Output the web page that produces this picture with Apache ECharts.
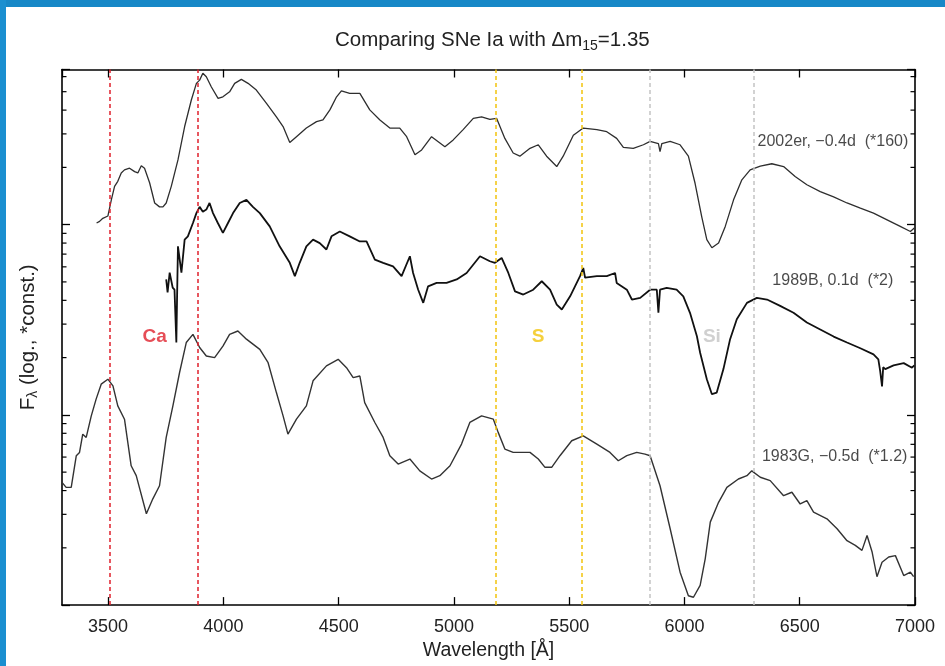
<!DOCTYPE html>
<html><head><meta charset="utf-8">
<script src="https://cdn.jsdelivr.net/npm/echarts@6/dist/echarts.min.js"></script>
<style>html,body{margin:0;padding:0;background:#fff}#c{width:945px;height:666px}</style>
</head><body><div id="c"></div>
<script>
// ---- axis ranges / ticks ----
const X_MIN = 3300, X_MAX = 7000;
const Y_MIN = 0.1, Y_MAX = 65.4;
const yMinorTicks = [0.2,0.3,0.4,0.5,0.6,0.7,0.8,0.9,2,3,4,5,6,7,8,9,20,30,40,50,60];

// ---- line identifications (wavelength, Å) ----
const caLines = [3505, 3890];
const sLines = [5180, 5555];
const siLines = [5850, 6300];

// ---- SN 2002er, -0.4d (*160) ----
const wl2002er = [3450,3463,3477,3499,3514,3528,3542,3557,3571,3593,
3615,3629,3644,3658,3680,3702,3723,3738,3752,3774,
3803,3832,3861,3883,3897,3911,3926,3948,3977,3998,
4027,4049,4078,4107,4143,4187,4230,4259,4288,4317,
4360,4404,4432,4462,4491,4512,4548,4592,4635,4679,
4722,4765,4795,4831,4860,4903,4961,4997,5040,5084,
5120,5156,5185,5221,5257,5286,5330,5366,5402,5446,
5474,5518,5561,5620,5663,5706,5735,5778,5822,5851,
5887,5894,5902,5938,5981,6017,6046,6075,6097,6119,
6148,6177,6213,6249,6285,6329,6379,6430,6480,6531,
6589,6647,6705,6763,6820,6879,6936,6980,6997];
const flux2002er = [10.2,10.4,10.8,11.1,13.5,15.9,16.9,18.7,19.4,19.8,
19.0,18.7,20.4,19.8,16.6,13.0,12.4,12.4,13.0,15.9,
21.9,32.8,45.2,55.3,57.5,62.5,59.9,52.9,46.1,47.0,
49.9,55.3,58.0,55.3,51.0,43.4,36.9,32.8,27.0,29.0,
32.2,34.8,35.5,40.1,47.0,50.5,49.0,49.0,40.1,35.5,
32.2,32.2,29.0,23.3,24.7,29.0,25.7,27.9,31.6,36.2,
36.9,35.8,36.2,28.4,23.8,22.9,25.2,26.3,22.9,20.2,
22.9,29.5,32.2,31.6,30.8,28.4,25.5,25.2,26.3,27.4,
26.7,24.2,26.7,27.4,26.3,22.9,16.5,11.0,8.34,7.56,
8.0,9.79,13.5,17.2,19.4,20.3,20.9,20.2,17.9,16.2,
14.9,14.0,13.0,12.2,11.5,10.6,9.79,9.2,9.6];

// ---- SN 1989B, 0.1d (*2) ----
const wl1989B = [3752,3758,3767,3780,3788,3796,3799,3803,3818,3832,
3846,3868,3883,3897,3911,3926,3940,3955,3976,3998,
4020,4042,4071,4100,4128,4158,4201,4244,4288,4310,
4331,4360,4389,4418,4447,4469,4505,4548,4592,4621,
4657,4693,4736,4773,4809,4823,4845,4867,4888,4925,
4968,5012,5055,5113,5156,5178,5207,5236,5265,5301,
5344,5381,5417,5446,5468,5504,5547,5561,5569,5620,
5663,5699,5706,5750,5772,5808,5851,5880,5887,5894,
5923,5966,5995,6024,6054,6068,6097,6119,6140,6169,
6198,6227,6271,6314,6358,6415,6473,6531,6589,6647,
6705,6763,6820,6841,6849,6857,6862,6871,6907,6951,6987,6997];
const flux1989B = [5.15,4.40,5.59,4.67,4.55,2.40,4.04,7.69,5.59,8.34,
8.68,10.2,11.5,12.4,11.7,12.0,13.0,11.5,10.2,9.05,
10.2,11.5,13.0,13.5,12.4,11.5,9.79,7.69,6.30,5.36,
6.30,7.69,8.34,8.0,7.40,8.68,9.2,8.68,8.16,8.16,
6.55,6.30,6.03,5.36,6.82,5.57,4.55,3.88,4.74,4.94,
4.94,5.15,5.57,6.82,6.42,6.30,6.68,5.57,4.46,4.29,
4.55,5.04,4.55,3.80,3.58,4.20,5.36,5.92,5.26,5.36,
5.36,5.57,4.94,4.55,4.04,4.12,4.55,4.55,3.44,4.55,
4.65,4.55,4.20,3.44,2.59,2.12,1.54,1.284,1.31,1.74,
2.50,3.18,3.88,4.12,4.04,3.74,3.44,3.06,2.81,2.58,
2.40,2.24,2.08,1.96,1.70,1.41,1.78,1.74,1.82,1.87,1.77,1.82];

// ---- SN 1983G, -0.5d (*1.2) ----
const wl1983G = [3300,3318,3340,3362,3376,3390,3405,3427,3448,3470,
3499,3521,3542,3571,3600,3622,3666,3694,3723,3752,
3781,3810,3839,3868,3897,3926,3962,3998,4027,4063,
4100,4158,4194,4230,4259,4280,4317,4360,4389,4447,
4498,4534,4563,4592,4613,4657,4693,4722,4758,4809,
4852,4903,4939,4983,5033,5069,5120,5171,5192,5221,
5257,5330,5366,5395,5424,5460,5511,5561,5620,5677,
5713,5750,5793,5829,5851,5894,5938,5981,6017,6039,
6068,6090,6112,6148,6184,6234,6271,6292,6329,6372,
6430,6466,6502,6531,6560,6618,6662,6705,6741,6770,
6792,6814,6835,6857,6886,6915,6951,6980,6994];
const flux1983G = [0.442,0.416,0.416,0.610,0.635,0.792,0.761,0.988,1.21,1.45,
1.54,1.42,1.115,0.949,0.540,0.479,0.302,0.362,0.424,0.761,
1.115,1.67,2.40,2.65,2.26,2.04,2.00,2.30,2.65,2.76,
2.50,2.21,1.88,1.31,0.988,0.792,0.949,1.115,1.51,1.81,
1.96,1.77,1.57,1.60,1.16,0.912,0.761,0.610,0.551,0.586,
0.508,0.460,0.479,0.540,0.702,0.912,0.988,0.949,0.809,0.661,
0.635,0.635,0.586,0.530,0.530,0.610,0.731,0.776,0.702,0.635,
0.574,0.610,0.635,0.622,0.610,0.424,0.252,0.149,0.112,0.110,
0.127,0.175,0.273,0.347,0.416,0.460,0.479,0.508,0.470,0.451,
0.376,0.392,0.340,0.354,0.308,0.284,0.252,0.218,0.206,0.194,
0.232,0.190,0.141,0.168,0.179,0.182,0.143,0.149,0.141];

// ---- text annotations ----
const seriesLabels = ['2002er, \u22120.4d  (*160)', '1989B, 0.1d  (*2)', '1983G, \u22120.5d  (*1.2)'];
const seriesLabelAnchors = [[6971, 27.2], [6906, 5.08], [6967, 0.600]];
const elementLabels = ['Ca', 'S', 'Si'];
const elementLabelAnchors = [[3702, 2.58], [5365, 2.58], [6119, 2.58]];

const FONT = 'Liberation Sans, Arial, Helvetica, sans-serif';
const RED = '#e0202c', YEL = '#f2c40c', GRY = '#c4c4c4';
const elementColors = [RED, YEL, GRY];

const zip = (a, b) => a.map((v, i) => [v, b[i]]);

function vline(x, color) {
  return { xAxis: x, lineStyle: { color: color, type: [4, 3], width: 1.5 } };
}

const chart = echarts.init(document.getElementById('c'), null, { renderer: 'canvas' });

const xAxisBase = {
  type: 'value', min: X_MIN, max: X_MAX, splitNumber: 7,
  splitLine: { show: false },
  axisLine: { show: true, onZero: false, lineStyle: { color: '#000', width: 1.6 } },
  axisTick: { show: true, inside: true, length: 8, lineStyle: { color: '#000', width: 1.3 } }
};
const yAxisBase = {
  type: 'log', logBase: 10, min: Y_MIN, max: Y_MAX,
  splitLine: { show: false },
  axisLine: { show: true, lineStyle: { color: '#000', width: 1.6 } },
  axisTick: { show: true, inside: true, length: 8, lineStyle: { color: '#000', width: 1.3 } },
  axisLabel: { show: false }
};

chart.setOption({
  animation: false,
  backgroundColor: '#fff',
  title: {
    text: 'Comparing SNe Ia with \u0394m{s|15}=1.35',
    left: 330, top: 23,
    textStyle: {
      fontFamily: FONT, fontSize: 20.5, fontWeight: 'normal', color: '#222',
      rich: { s: { fontFamily: FONT, fontSize: 14, color: '#222', padding: [11, 0, 0, 0] } }
    }
  },
  graphic: [
    { type: 'rect', left: 0, top: 0, shape: { width: 945, height: 7 }, style: { fill: '#1788c7' }, z: 100 },
    { type: 'rect', left: 0, top: 0, shape: { width: 6, height: 666 }, style: { fill: '#1a8fd0' }, z: 100 }
  ],
  grid: { left: 62, right: 30, top: 69.5, bottom: 59.6, containLabel: false },
  xAxis: [
    Object.assign({}, xAxisBase, {
      position: 'bottom',
      name: 'Wavelength [\u00c5]', nameLocation: 'middle', nameGap: 34,
      nameTextStyle: { fontFamily: FONT, fontSize: 19.5, color: '#222' },
      axisLabel: { show: true, margin: 13, fontFamily: FONT, fontSize: 18, color: '#222',
        showMinLabel: false, formatter: v => String(v) }
    }),
    Object.assign({}, xAxisBase, { position: 'top', axisLabel: { show: false } })
  ],
  yAxis: [
    Object.assign({}, yAxisBase, {
      position: 'left',
      name: '{f|F}{s|\u03bb}{f| (log., *const.)}', nameLocation: 'middle', nameGap: 22,
      nameTextStyle: {
        rich: {
          f: { fontFamily: FONT, fontSize: 20.5, color: '#222' },
          s: { fontFamily: FONT, fontSize: 14, color: '#222', padding: [10, 0, 0, 0] }
        }
      }
    }),
    Object.assign({}, yAxisBase, { position: 'right' })
  ],
  series: [
    {
      name: '2002er', type: 'line', data: zip(wl2002er, flux2002er),
      showSymbol: false, symbol: 'none', silent: true,
      lineStyle: { color: '#2e2e2e', width: 1.3 },
      markLine: {
        silent: true, symbol: 'none', label: { show: false },
        data: caLines.map(x => vline(x, RED))
          .concat(sLines.map(x => vline(x, YEL)))
          .concat(siLines.map(x => vline(x, GRY)))
      },
      z: 3
    },
    {
      name: '1989B', type: 'line', data: zip(wl1989B, flux1989B),
      showSymbol: false, symbol: 'none', silent: true,
      lineStyle: { color: '#111', width: 1.8 }, z: 3
    },
    {
      name: '1983G', type: 'line', data: zip(wl1983G, flux1983G),
      showSymbol: false, symbol: 'none', silent: true,
      lineStyle: { color: '#333', width: 1.4 }, z: 3
    },
    {
      name: 'minorTicks', type: 'custom', silent: true, clip: false,
      data: yMinorTicks.map(v => [X_MIN, v]),
      renderItem: function (params, api) {
        const v = api.value(1);
        const pL = api.coord([X_MIN, v]);
        const pR = api.coord([X_MAX, v]);
        return {
          type: 'group', children: [
            { type: 'line', shape: { x1: pL[0], y1: pL[1], x2: pL[0] + 4.5, y2: pL[1] }, style: { stroke: '#000', lineWidth: 1.2 } },
            { type: 'line', shape: { x1: pR[0], y1: pR[1], x2: pR[0] - 4.5, y2: pR[1] }, style: { stroke: '#000', lineWidth: 1.2 } }
          ]
        };
      }
    },
    {
      name: 'seriesLabels', type: 'scatter', silent: true, symbolSize: 0,
      data: seriesLabels.map((t, i) => ({ value: seriesLabelAnchors[i], name: t })),
      label: { show: true, position: 'inside', align: 'right', verticalAlign: 'middle',
        formatter: p => p.name, fontFamily: FONT, fontSize: 16, color: '#1a1a1a' },
      z: 5
    },
    {
      name: 'elementLabels', type: 'scatter', silent: true, symbolSize: 0,
      data: elementLabels.map((t, i) => ({
        value: elementLabelAnchors[i], name: t,
        label: { color: elementColors[i] }
      })),
      label: { show: true, position: 'inside', align: 'center', verticalAlign: 'middle',
        formatter: p => p.name, fontFamily: FONT, fontSize: 19, fontWeight: 'bold' },
      z: 5
    }
  ]
});
</script></body></html>
